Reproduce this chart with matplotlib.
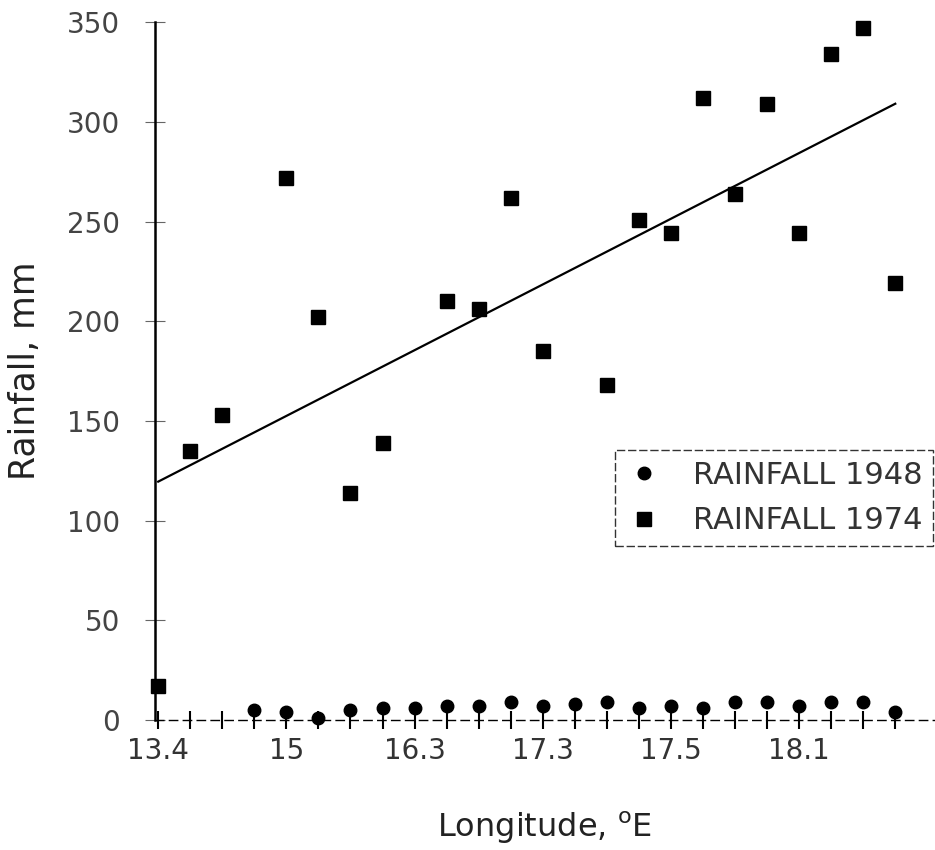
import matplotlib.pyplot as plt
import numpy as np

# station index along the transect (labels only every 4th station)
station = np.arange(24)
tick_labels = ["13.4", "15", "16.3", "17.3", "17.5", "18.1"]

nan = np.nan
rain_1948 = [nan, nan, nan, 5, 4, 1, 5, 6, 6, 7, 7, 9, 7, 8, 9, 6, 7, 6, 9, 9, 7, 9, 9, 4]
rain_1974 = [17, 135, 153, nan, 272, 202, 114, 139, nan, 210, 206, 262, 185,
             nan, 168, 251, 244, 312, 264, 309, 244, 334, 347, 219]

plt.rcParams['font.family'] = ['DejaVu Sans']

fig = plt.figure(figsize=(9.35, 8.5), dpi=100)
ax = fig.add_axes([0.1658, 0.1529, 0.8342, 0.8211])

r48 = np.array(rain_1948, dtype=float)
r74 = np.array(rain_1974, dtype=float)

ax.plot(station, r48, "o", color="black", markersize=9, clip_on=False,
        zorder=5, label="RAINFALL 1948")
ax.plot(station, r74, "s", color="black", markersize=9.5, clip_on=False,
        zorder=5, label="RAINFALL 1974")

# linear trend of the 1974 series
ok = ~np.isnan(r74)
k, b = np.polyfit(station[ok], r74[ok], 1)
xs = np.array([station[0], station[-1]])
ax.plot(xs, k * xs + b, color="black", linewidth=1.6, zorder=4)

ax.set_xlim(-0.1, 24.24)
ax.set_ylim(0, 350)

ax.set_xticks(station)
labels = [""] * len(station)
for i, t in enumerate(tick_labels):
    labels[i * 4] = t
ax.set_xticklabels(labels)
ax.set_yticks(np.arange(0, 351, 50))

ax.tick_params(axis="x", direction="inout", length=13, width=1.5,
               labelsize=20, pad=6, labelcolor="#333")
ax.tick_params(axis="y", direction="inout", length=14, width=0.8,
               labelsize=20, pad=18, labelcolor="#444", color="#666")

for s in ("top", "right"):
    ax.spines[s].set_visible(False)
ax.spines["left"].set_linewidth(1.8)
ax.spines["bottom"].set_linewidth(1.0)
ax.spines["bottom"].set_linestyle((0, (6, 4)))

ax.set_ylabel("Rainfall, mm", fontsize=25, color="#222", labelpad=18)
ax.set_xlabel("Longitude, $^{\\rm o}$E", fontsize=23, color="#222", labelpad=32)

leg = ax.legend(loc="upper left", bbox_to_anchor=(0.59, 0.387),
                borderaxespad=0, fontsize=22, frameon=True, fancybox=False,
                handletextpad=1.0, borderpad=0.35, labelspacing=0.55,
                markerscale=1.0, handlelength=1.2)
frame = leg.get_frame()
frame.set_edgecolor("black")
frame.set_linewidth(1.0)
frame.set_linestyle((0, (6, 2)))
for t in leg.get_texts():
    t.set_color("#333")

fig.savefig("out.png", dpi=100)
